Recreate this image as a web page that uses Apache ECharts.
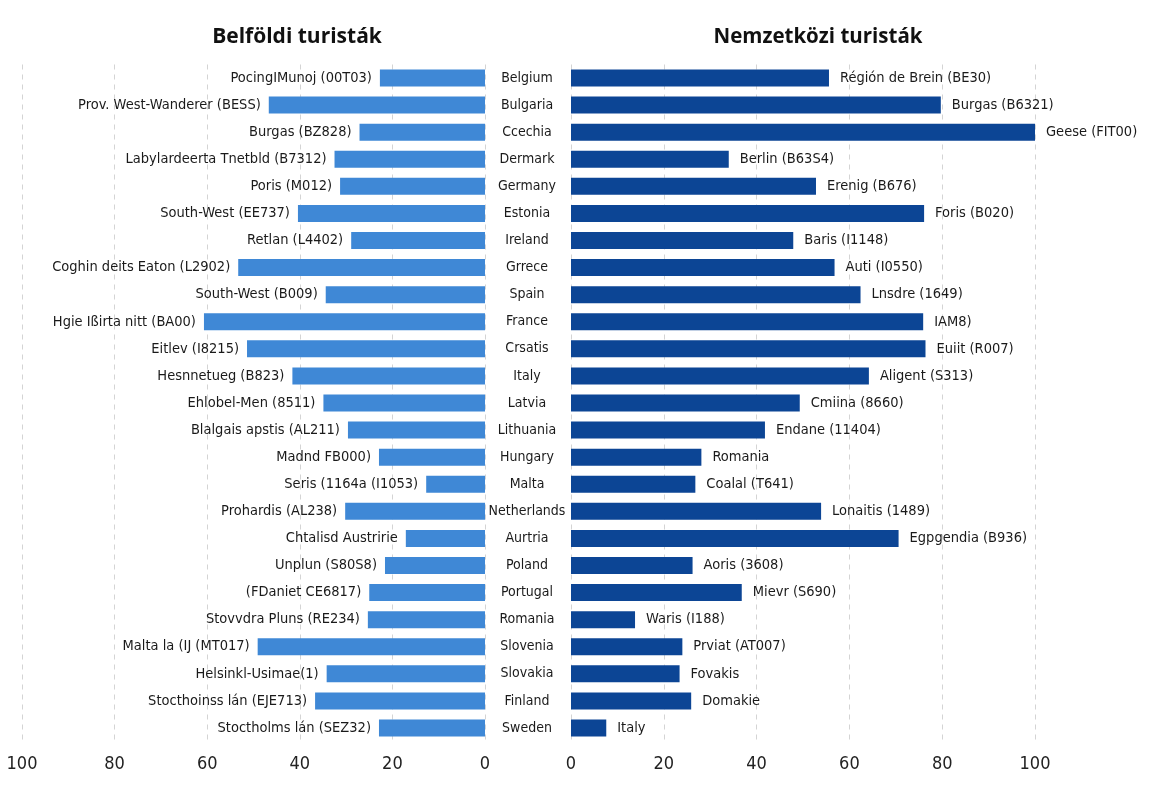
<!DOCTYPE html>
<html>
<head>
<meta charset="utf-8">
<script src="https://cdn.jsdelivr.net/npm/echarts@6/dist/echarts.min.js"></script>
<style>
html,body{margin:0;padding:0;background:#fff;}
#chart{width:1165px;height:805px;}
</style>
</head>
<body>
<div id="chart"></div>
<script>
const countries = ["Belgium","Bulgaria","Ccechia","Dermark","Germany","Estonia","Ireland","Grrece","Spain","France","Crsatis","Italy","Latvia","Lithuania","Hungary","Malta","Netherlands","Aurtria","Poland","Portugal","Romania","Slovenia","Slovakia","Finland","Sweden"];
const domesticRegions = ["PocingIMunoj (00T03)","Prov. West-Wanderer (BESS)","Burgas (BZ828)","Labylardeerta Tnetbld (B7312)","Poris (M012)","South-West (EE737)","Retlan (L4402)","Coghin deits Eaton (L2902)","South-West (B009)","Hgie Ißirta nitt (BA00)","Eitlev (I8215)","Hesnnetueg (B823)","Ehlobel-Men (8511)","Blalgais apstis (AL211)","Madnd FB000)","Seris (1164a (I1053)","Prohardis (AL238)","Chtalisd Austririe","Unplun (S80S8)","(FDaniet CE6817)","Stovvdra Pluns (RE234)","Malta la (IJ (MT017)","Helsinkl-Usimae(1)","Stocthoinss lán (EJE713)","Stoctholms lán (SEZ32)"];
const domesticValues = [22.7,46.7,27.1,32.5,31.3,40.4,28.9,53.3,34.4,60.7,51.4,41.6,34.9,29.6,22.9,12.7,30.2,17.1,21.6,25.0,25.3,49.1,34.2,36.7,22.9];
const intlRegions = ["Régión de Brein (BE30)","Burgas (B6321)","Geese (FIT00)","Berlin (B63S4)","Erenig (B676)","Foris (B020)","Baris (I1148)","Auti (I0550)","Lnsdre (1649)","IAM8)","Euiit (R007)","Aligent (S313)","Cmiina (8660)","Endane (11404)","Romania","Coalal (T641)","Lonaitis (1489)","Egpgendia (B936)","Aoris (3608)","Mievr (S690)","Waris (I188)","Prviat (AT007)","Fovakis","Domakie","Italy"];
const intlValues = [55.6,79.7,100,34.0,52.8,76.1,47.9,56.8,62.4,75.9,76.4,64.2,49.3,41.8,28.1,26.8,53.9,70.6,26.2,36.8,13.8,24.0,23.4,25.9,7.6];
const titles = ["Belföldi turisták","Nemzetközi turisták"];

const narrow = "'Liberation Sans Narrow','DejaVu Sans Condensed','Roboto Condensed',sans-serif";
const gridTop = 64.5, gridBottom = 63.5;
const chart = echarts.init(document.getElementById('chart'), null, {renderer:'canvas'});
chart.setOption({
  backgroundColor:'#ffffff',
  animation:false,
  title:[
    {text:titles[0], left:292, top:22, textAlign:'center', textStyle:{fontFamily:"'Open Sans',sans-serif", fontWeight:'bold', fontSize:21, color:'#111'}},
    {text:titles[1], left:813, top:22, textAlign:'center', textStyle:{fontFamily:"'Open Sans',sans-serif", fontWeight:'bold', fontSize:20.5, color:'#111'}}
  ],
  grid:[
    {left:22, right:1165-485, top:gridTop, bottom:gridBottom},
    {left:571, right:1165-1035, top:gridTop, bottom:gridBottom}
  ],
  xAxis:[
    {gridIndex:0, type:'value', inverse:true, min:0, max:100, interval:20,
     axisLine:{show:false}, axisTick:{show:false},
     axisLabel:{fontFamily:narrow, fontSize:18, color:'#222', margin:14},
     splitLine:{show:true, lineStyle:{type:[5,5], color:'#d4d4d4', width:1}}},
    {gridIndex:1, type:'value', min:0, max:100, interval:20,
     axisLine:{show:false}, axisTick:{show:false},
     axisLabel:{fontFamily:narrow, fontSize:18, color:'#222', margin:14},
     splitLine:{show:true, lineStyle:{type:[5,5], color:'#d4d4d4', width:1}}}
  ],
  yAxis:[
    {gridIndex:0, type:'category', data:countries, inverse:true, position:'right',
     axisLine:{show:false}, axisTick:{show:false}, axisLabel:{show:false}},
    {gridIndex:1, type:'category', data:countries, inverse:true, position:'left',
     axisLine:{show:false}, axisTick:{show:false},
     axisLabel:{show:true, align:'center', margin:44, fontFamily:narrow, fontSize:14, color:'#1a1a1a'}}
  ],
  series:[
    {type:'bar', xAxisIndex:0, yAxisIndex:0, data:domesticValues, barWidth:17,
     itemStyle:{color:'#3f88d6'},
     label:{show:true, position:'left', distance:8, fontFamily:narrow, fontSize:14.5, color:'#1a1a1a',
            formatter:p=>domesticRegions[p.dataIndex]}},
    {type:'bar', xAxisIndex:1, yAxisIndex:1, data:intlValues, barWidth:17,
     itemStyle:{color:'#0c4595'},
     label:{show:true, position:'right', distance:11, fontFamily:narrow, fontSize:14.5, color:'#1a1a1a',
            formatter:p=>intlRegions[p.dataIndex]}}
  ]
});
</script>
</body>
</html>
